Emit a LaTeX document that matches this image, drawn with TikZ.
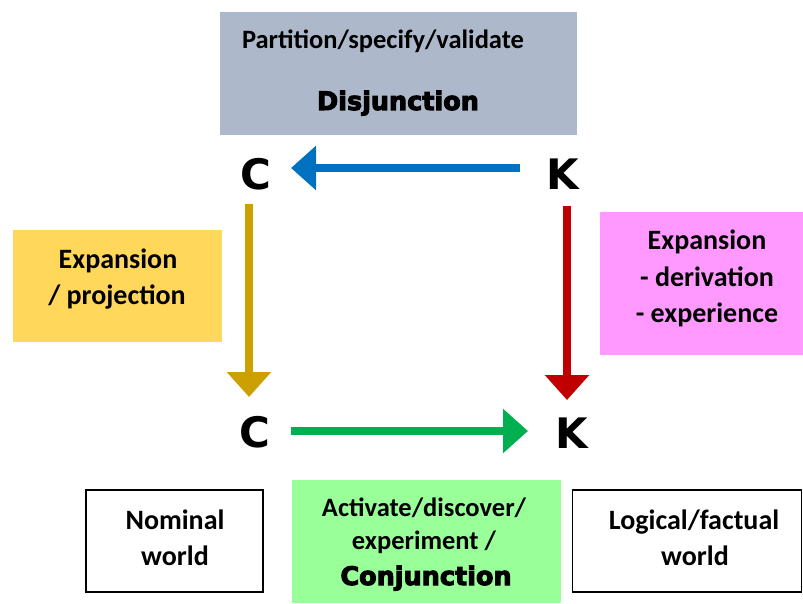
\documentclass[tikz,border=0pt]{standalone}
\usepackage{fontspec}
\setmainfont{Carlito}
\newfontfamily\heavyfont{DejaVu Sans}
\newfontfamily\blackfont{DejaVu Sans}[BoldFeatures={FakeBold=4}]
\usetikzlibrary{arrows.meta,calc}
\definecolor{boxgray}{HTML}{ADB9CA}
\definecolor{boxyellow}{HTML}{FFD75A}
\definecolor{boxpink}{HTML}{FF99FF}
\definecolor{boxgreen}{HTML}{99FF99}
\definecolor{arrblue}{HTML}{0070C0}
\definecolor{arrgold}{HTML}{CCA000}
\definecolor{arrred}{HTML}{C00000}
\definecolor{arrgreen}{HTML}{00B050}
\begin{document}
\begin{tikzpicture}[x=1pt,y=-1pt,
  panel/.style={inner sep=0pt, outer sep=0pt},
  framed/.style={panel, draw=black, line width=1.5pt, fill=white},
  lbl/.style={anchor=base, inner sep=0pt, font=\bfseries\fontsize{28}{34}\selectfont},
  smalllbl/.style={anchor=base, inner sep=0pt, font=\bfseries\fontsize{26.5}{32}\selectfont},
  heavylbl/.style={anchor=base, inner sep=0pt, font=\blackfont\bfseries\fontsize{25.5}{30}\selectfont},
  letter/.style={anchor=base, inner sep=0pt, font=\heavyfont\bfseries\fontsize{42}{48}\selectfont},
  arr/.style={line width=8.5pt, -{Triangle[length=25pt,width=43pt]}}]
\useasboundingbox (0,0) rectangle (803,604);

% boxes
\node[panel, fill=boxgray, minimum width=357pt, minimum height=123pt] (gray) at (398.5,73.5) {};
\node[panel, fill=boxyellow, minimum width=209pt, minimum height=112pt] (yellow) at (117.5,286) {};
\node[panel, fill=boxpink, minimum width=203pt, minimum height=143pt] (pink) at (701.5,283.5) {};
\node[panel, fill=boxgreen, minimum width=269pt, minimum height=123pt] (green) at (426.5,541.5) {};
\node[framed, minimum width=177pt, minimum height=102pt] (nominal) at (174.5,541) {};
\node[framed, minimum width=229pt, minimum height=102pt] (logical) at (687,541) {};

% texts
\node[smalllbl] (t1) at (383,49) {Partition/specify/validate};
\node[heavylbl] (t2) at (398,110) {Disjunction};
\node[lbl] (y1) at (118,268) {Expansion};
\node[lbl] (y2) at (117,304) {/ projection};
\node[lbl] (p1) at (707,250) {Expansion};
\node[lbl] (p2) at (707,286) {- derivation};
\node[lbl] (p3) at (707,322) {- experience};
\node[lbl] (n1) at (175,529) {Nominal};
\node[lbl] (n2) at (175,565) {world};
\node[smalllbl] (g1) at (424,516) {Activate/discover/};
\node[smalllbl] (g2) at (424,549) {experiment /};
\node[heavylbl] (g3) at (426,585) {Conjunction};
\node[lbl] (l1) at (694,529) {Logical/factual};
\node[lbl] (l2) at (695,565) {world};

% letters
\node[letter] (Ct) at (256,190) {C};
\node[letter] (Kt) at (563,190) {K};
\node[letter] (Cb) at (255,447) {C};
\node[letter] (Kb) at (572,448) {K};

% arrows
\draw[arr, arrblue] ($(Kt.base)+(-43,-22)$) -- ($(Ct.base)+(35,-22)$);
\draw[arr, arrgold] ($(Ct.base)+(-7,14)$) -- ($(Cb.base)+(-6,-50)$);
\draw[arr, arrred] ($(Kt.base)+(4,16)$) -- ($(Kb.base)+(-5,-48)$);
\draw[arr, arrgreen] ($(Cb.base)+(36,-16)$) -- ($(Kb.base)+(-44,-17)$);
\end{tikzpicture}
\end{document}
